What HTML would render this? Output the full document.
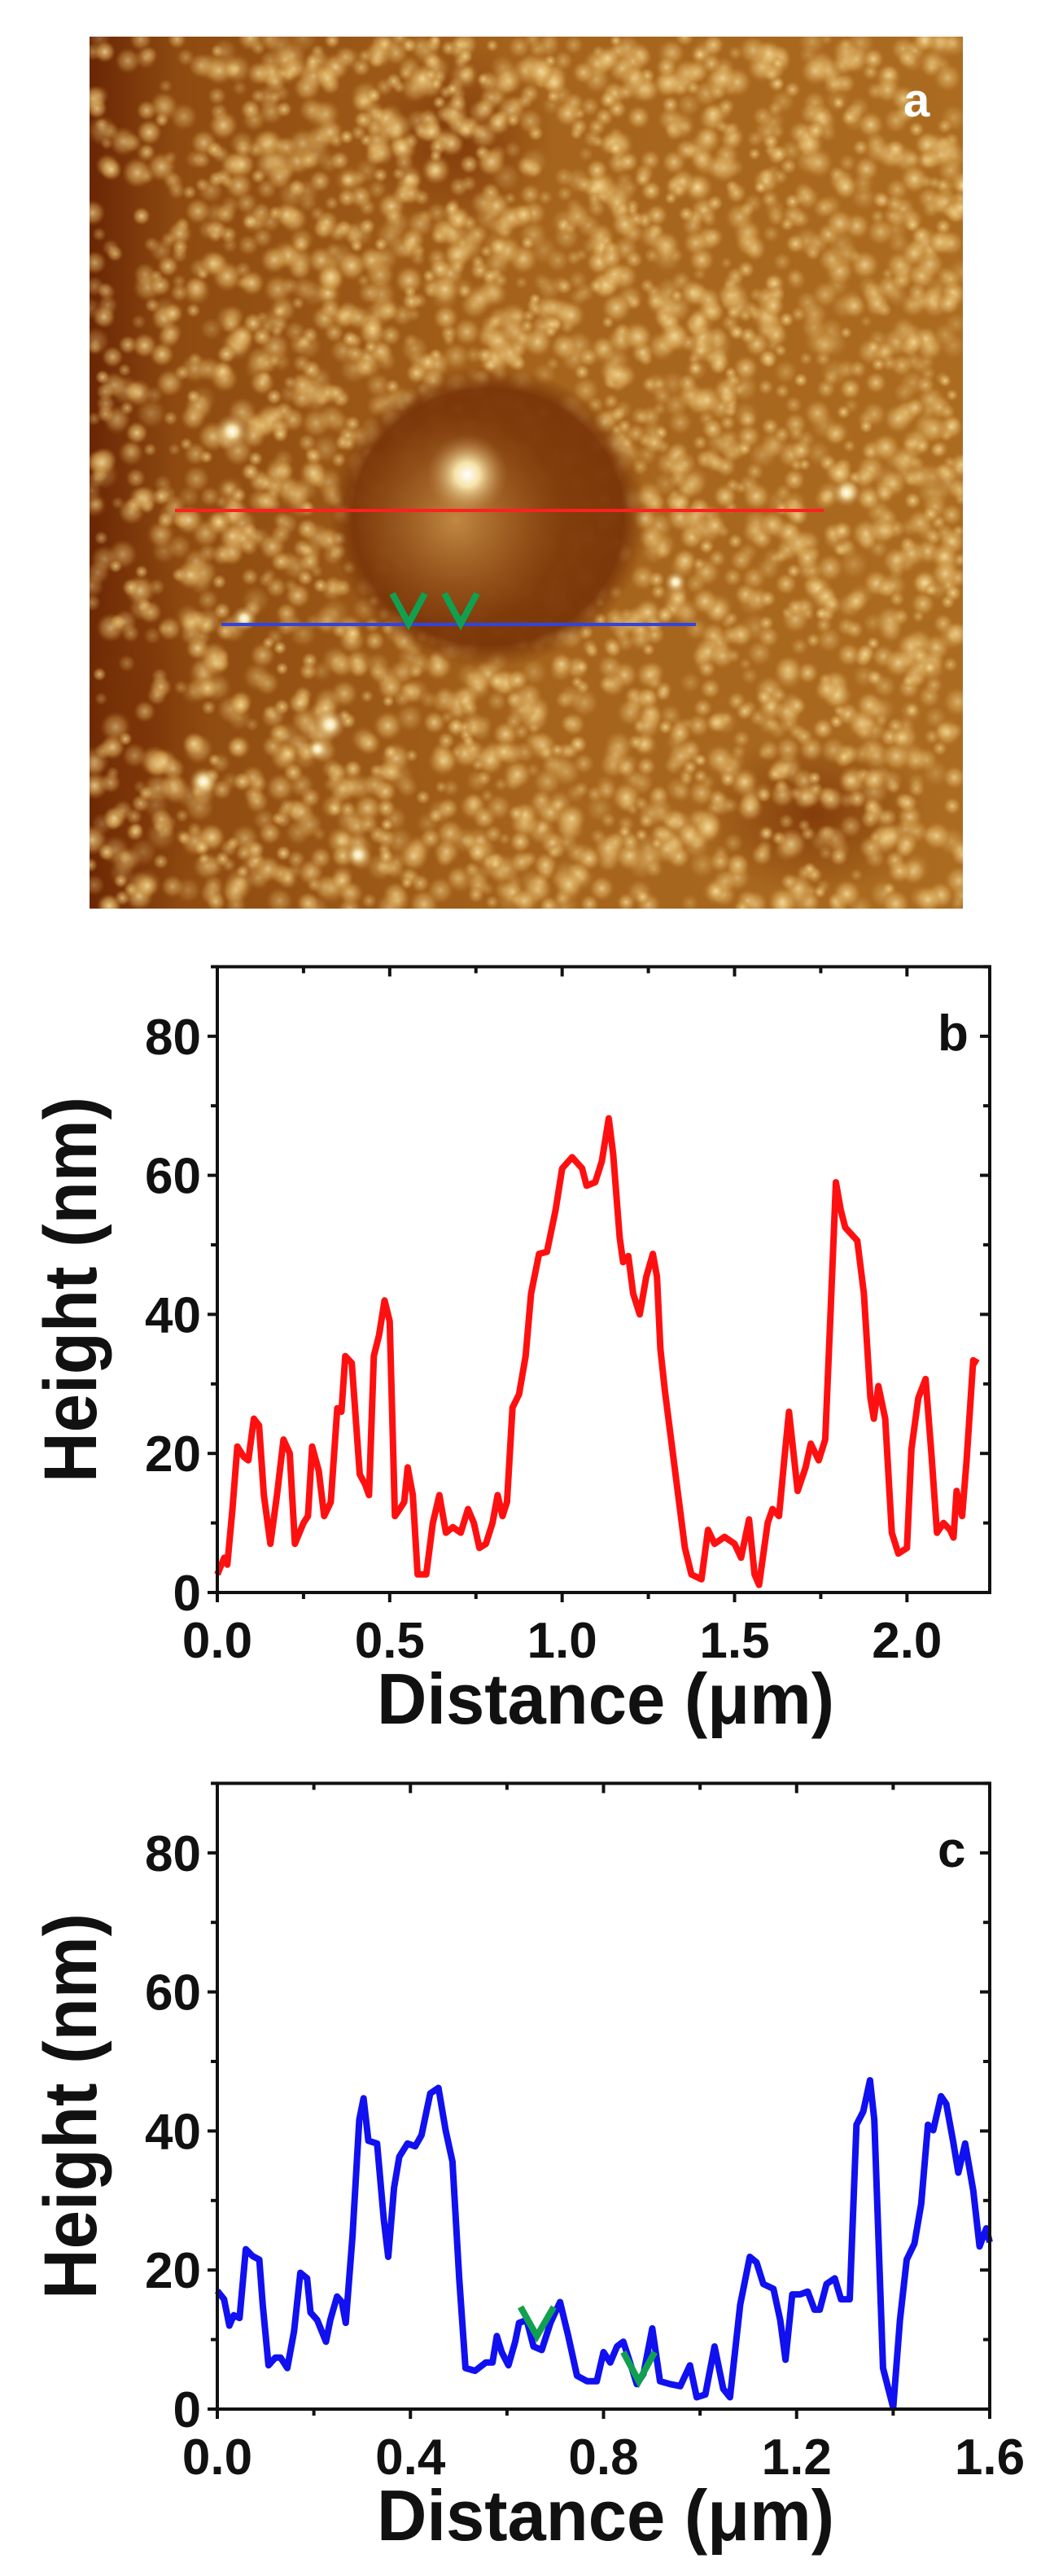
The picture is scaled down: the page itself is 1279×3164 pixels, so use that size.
<!DOCTYPE html>
<html><head><meta charset="utf-8"><style>
html,body{margin:0;padding:0;background:#fff;}
svg{display:block;}
text{font-family:"Liberation Sans",Arial,sans-serif;font-weight:bold;fill:#111;}
</style></head><body>
<svg id="fig" width="1279" height="3164" viewBox="0 0 1279 3164" xmlns="http://www.w3.org/2000/svg">
<defs>
<radialGradient id="blob"><stop offset="0" stop-color="#f8e2a0" stop-opacity="0.95"/><stop offset="0.6" stop-color="#d9a858" stop-opacity="0.6"/><stop offset="1" stop-color="#b87828" stop-opacity="0"/></radialGradient>
<radialGradient id="dark"><stop offset="0" stop-color="#7a3206" stop-opacity="0.8"/><stop offset="1" stop-color="#7a3206" stop-opacity="0"/></radialGradient>
<radialGradient id="pit" cx="0.5" cy="0.5"><stop offset="0" stop-color="#8a4510" stop-opacity="1"/><stop offset="0.85" stop-color="#7a3508" stop-opacity="0.95"/><stop offset="1" stop-color="#7a3508" stop-opacity="0"/></radialGradient>
<radialGradient id="inner"><stop offset="0" stop-color="#c89048" stop-opacity="0.9"/><stop offset="1" stop-color="#a86a28" stop-opacity="0"/></radialGradient>
<radialGradient id="core"><stop offset="0" stop-color="#ffffff"/><stop offset="0.3" stop-color="#f6e3a8"/><stop offset="1" stop-color="#b88040" stop-opacity="0"/></radialGradient>
<linearGradient id="bg" x1="0" x2="1" y1="0" y2="0"><stop offset="0" stop-color="#6a2604"/><stop offset="0.1" stop-color="#8e4a10"/><stop offset="0.5" stop-color="#a5631c"/><stop offset="1" stop-color="#ab6b20"/></linearGradient>
<clipPath id="imgclip"><rect x="110" y="45" width="1073" height="1071"/></clipPath>
</defs>
<g id="afm" clip-path="url(#imgclip)">
<rect x="110" y="45" width="1073" height="1071" fill="url(#bg)"/>
<ellipse cx="170" cy="900" rx="90" ry="260" fill="url(#dark)"/>
<ellipse cx="560" cy="170" rx="120" ry="120" fill="url(#dark)"/>
<ellipse cx="1000" cy="1000" rx="140" ry="100" fill="url(#dark)"/>
<g id="blobs"></g>
<ellipse cx="600" cy="635" rx="195" ry="185" fill="url(#pit)"/>
<ellipse cx="560" cy="640" rx="130" ry="130" fill="url(#inner)"/>
<circle cx="574" cy="583" r="50" fill="url(#core)"/>
</g>
<line x1="215" y1="627" x2="1012" y2="627" stroke="#ff2020" stroke-width="4"/>
<line x1="272" y1="767" x2="855" y2="767" stroke="#3344dd" stroke-width="4"/>
<path d="M482,729 L502,766 L522,729 M546,729 L566,766 L586,729" fill="none" stroke="#10a050" stroke-width="8"/>
<text x="1110" y="143" font-size="58" style="fill:#fff">a</text>
<g id="chartB"></g>
<g id="chartC"></g>
</svg>
<script>
// ---- chart b data ----
const bX = [0,.02,.029,.044,.058,.077,.09,.106,.121,.135,.154,.173,.192,.21,.225,.25,.263,.275,.294,.31,.329,.348,.36,.371,.39,.413,.429,.44,.454,.469,.485,.5,.515,.529,.542,.552,.567,.581,.606,.625,.644,.663,.683,.706,.727,.744,.76,.779,.798,.813,.827,.84,.856,.875,.894,.91,.933,.956,.981,1.0,1.029,1.058,1.071,1.096,1.115,1.135,1.148,1.167,1.177,1.192,1.206,1.225,1.244,1.263,1.275,1.285,1.298,1.333,1.356,1.375,1.404,1.423,1.442,1.471,1.5,1.519,1.542,1.558,1.571,1.596,1.61,1.629,1.644,1.658,1.683,1.706,1.721,1.744,1.763,1.779,1.794,1.808,1.821,1.856,1.875,1.894,1.904,1.917,1.937,1.956,1.975,2.0,2.013,2.033,2.054,2.071,2.087,2.106,2.125,2.135,2.144,2.16,2.173,2.192,2.206];
const bY = [2.6,5,4,12,21,19.5,19,25,24,14,7,14,22,20,7,10,11,21,17.5,11,13,26.5,26,34,33,17,15.5,14,34,37,42,39,11,12,13,18,14,2.6,2.6,10,14,8.6,9.4,8.6,12,10,6.4,7,10,14,11,13,26.6,28.5,34,43,48.7,49,55,61,62.6,61,58.5,59,62,68.2,63,51,47.5,48.4,43,40,45.4,48.7,45.4,35,29,15.4,6.4,2.6,1.9,9,7,8,7,5,10.5,2.6,1.1,10,12,11,19,26,14.6,18,21.4,19,22,41,59,55,52.5,50.6,43,28,25,29.7,25,8.6,5.6,6.4,20.6,28,30.7,19.9,8.6,10,9,7.9,14.6,11,19,33.4,33];
const bXTicks = [0,0.5,1.0,1.5,2.0];
const bXLabels = ["0.0","0.5","1.0","1.5","2.0"];
const bYTicks = [0,20,40,60,80];
const bYLabels = ["0","20","40","60","80"];
// ---- chart c data ----
const cX = [0,.014,.025,.034,.046,.059,.073,.087,.094,.106,.12,.131,.145,.159,.172,.186,.193,.207,.225,.234,.248,.258,.266,.28,.294,.303,.313,.331,.345,.354,.366,.377,.394,.41,.423,.441,.458,.473,.487,.501,.514,.534,.556,.57,.579,.589,.603,.617,.625,.641,.655,.672,.69,.71,.727,.745,.766,.786,.8,.814,.828,.841,.855,.869,.883,.901,.917,.938,.959,.979,.993,1.011,1.03,1.048,1.062,1.083,1.103,1.117,1.131,1.152,1.166,1.177,1.191,1.207,1.223,1.237,1.248,1.262,1.279,1.292,1.31,1.324,1.338,1.352,1.361,1.379,1.4,1.414,1.428,1.444,1.458,1.472,1.483,1.499,1.51,1.524,1.535,1.549,1.566,1.579,1.593,1.6];
const cY = [17,15.8,12,13.5,13.1,23,22,21.5,15,6.3,7.4,7.4,5.9,11.2,19.6,18.8,13.9,12.8,9.7,12.8,16.2,15.4,12.4,24.9,41.6,44.7,38.6,38.2,27.2,21.9,31.8,36.3,38.2,37.8,39.4,45.4,46.2,40.1,35.6,18.8,5.9,5.5,6.7,6.7,10.5,8.2,6.3,9.7,12.4,12.8,9,8.5,12.4,15.4,10.5,4.8,4,4,8.2,6.7,9,9.7,6.7,3.6,5.1,11.6,4,3.6,3.3,6.3,1.7,2.1,9,2.9,1.7,15,21.9,21.1,18,17.3,12.8,7.1,16.5,16.5,16.9,14.3,14.3,18,18.8,15.8,15.8,40.9,42.8,47.3,41.6,5.9,0.2,12.8,21.5,23.8,29.5,40.9,40.1,45,43.9,38.6,34,38.2,31.4,23.4,26,24];
const cMark1X = [.628,.662,.697];
const cMark1Y = [14.7,10.5,14.7];
const cMark2X = [.841,.873,.906];
const cMark2Y = [8.2,4,8.2];
const cXTicks = [0,0.4,0.8,1.2,1.6];
const cXLabels = ["0.0","0.4","0.8","1.2","1.6"];
const cYTicks = [0,20,40,60,80];
const cYLabels = ["0","20","40","60","80"];

const NS = "http://www.w3.org/2000/svg";
function mk(parent, tag, attrs, txt){
  const e = document.createElementNS(NS, tag);
  for (const k in attrs) e.setAttribute(k, attrs[k]);
  if (txt !== undefined) e.textContent = txt;
  parent.appendChild(e);
  return e;
}

// AFM texture (deterministic)
(function(){
  const g = document.getElementById('blobs');
  let s = 12345;
  function r(){ s = (s*1103515245 + 12345) % 2147483648; return s/2147483648; }
  for (let i=0;i<3200;i++){
    const x = 110 + r()*1073, y = 45 + r()*1071;
    let p = 0.45 + 0.55*Math.min(1,(x-110)/250);
    if (r() > p) continue;
    const rad = 8 + r()*11;
    const c = mk(g,'circle',{cx:x.toFixed(1),cy:y.toFixed(1),r:rad.toFixed(1),fill:'url(#blob)',opacity:(0.3+r()*0.6).toFixed(2)});
    
    
  }
  const bright = [[285,530,22],[1040,605,18],[405,890,20],[300,760,16],[250,960,18],[440,1050,16],[390,920,14],[830,715,14]];
  bright.forEach(b=>{
    const c = mk(g,'circle',{cx:b[0],cy:b[1],r:b[2],fill:'url(#core)'});
    
    
  });
})();

function drawChart(gid, xs, ys, color, xmax, xTicks, xLabels, yTicks, yLabels, letter, y0px, marks){
  const g = document.getElementById(gid);
  const L = 267, R = 1216, ymax = 90;
  const top = y0px - 90*8.54;
  const sx = v => L + v/xmax*(R-L);
  const sy = v => y0px - v*8.54;
  let d = xs.map((v,i)=>(i?'L':'M')+sx(v).toFixed(1)+','+sy(ys[i]).toFixed(1)).join(' ');
  const p = mk(g,'path',{d:d,fill:'none',stroke:color,'stroke-width':8,'stroke-linejoin':'round'});
  
  
  (marks||[]).forEach(m=>{
    const md = m[0].map((v,i)=>(i?'L':'M')+sx(v).toFixed(1)+','+sy(m[1][i]).toFixed(1)).join(' ');
    const mp = mk(g,'path',{d:md,fill:'none',stroke:'#10a050','stroke-width':8});
    
    
  });
  const fr = mk(g,'rect',{x:L,y:top,width:R-L,height:y0px-top,fill:'none',stroke:'#111','stroke-width':4});
  
  
  const step = xTicks[1]-xTicks[0];
  for (let v=0; v<=xmax+1e-9; v+=step/2){
    const major = Math.abs(v/step - Math.round(v/step))<1e-6;
    const len = major?12:8;
    mk(g,'line',{x1:sx(v),y1:y0px,x2:sx(v),y2:y0px+len,stroke:'#111','stroke-width':4});
    mk(g,'line',{x1:sx(v),y1:top,x2:sx(v),y2:top+len,stroke:'#111','stroke-width':4});
  }
  xTicks.forEach((v,i)=>{
    const t = mk(g,'text',{x:sx(v),y:y0px+80,'font-size':62,'text-anchor':'middle'},xLabels[i]);
    
    
  });
  for (let v=0; v<=ymax; v+=10){
    const len = (v%20===0)?12:8;
    mk(g,'line',{x1:L-len,y1:sy(v),x2:L,y2:sy(v),stroke:'#111','stroke-width':4});
    mk(g,'line',{x1:R-len,y1:sy(v),x2:R,y2:sy(v),stroke:'#111','stroke-width':4});
  }
  yTicks.forEach((v,i)=>{
    const t = mk(g,'text',{x:L-20,y:sy(v)+22,'font-size':62,'text-anchor':'end'},yLabels[i]);
    
    
  });
  const yt = mk(g,'text',{x:0,y:0,'font-size':92,'text-anchor':'middle',transform:'translate(118,'+(y0px-372)+') rotate(-90)',textLength:474,lengthAdjust:'spacingAndGlyphs'},'Height (nm)');
  
  
  const xt = mk(g,'text',{x:744,y:y0px+161,'font-size':88,'text-anchor':'middle',textLength:562,lengthAdjust:'spacingAndGlyphs'},'Distance (\u03bcm)');
  
  
  const lt = mk(g,'text',{x:1152,y:sy(80)+17,'font-size':62},letter);
  
  
}
drawChart('chartB', bX, bY, '#ff1010', 2.24, bXTicks, bXLabels, bYTicks, bYLabels, 'b', 1956, []);
drawChart('chartC', cX, cY, '#1010f0', 1.6, cXTicks, cXLabels, cYTicks, cYLabels, 'c', 2959, [[cMark1X,cMark1Y],[cMark2X,cMark2Y]]);
</script>
</body></html>
